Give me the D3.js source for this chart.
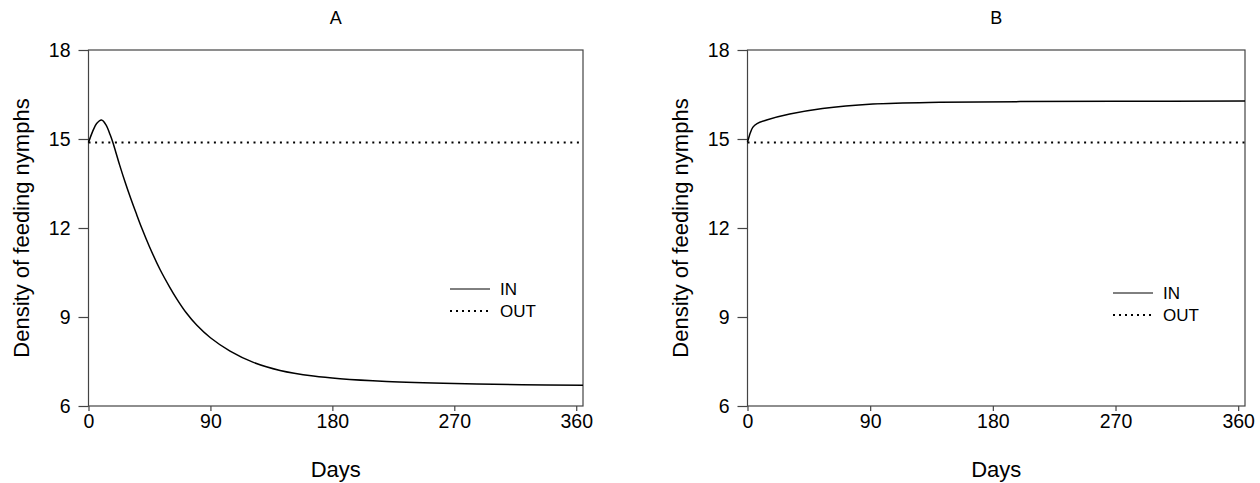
<!DOCTYPE html>
<html>
<head>
<meta charset="utf-8">
<script src="https://cdn.jsdelivr.net/npm/d3@7"></script>
<style>
body{margin:0;background:#fff;}
text{font-family:"Liberation Sans",Arial,sans-serif;fill:#000;}
</style>
</head>
<body>
<div id="chart"></div>
<script>
// values
var xTicks = [0,90,180,270,360];
var yTicks = [6,9,12,15,18];
var panelNames = ["A","B"];

var daysA = [0,3,6,9.6,13,16,18,20,23,27,31,35,39.3,45,52.8,60,65,72,80,90,104.5,121.7,141.4,166,185.7,220,270,320,365];
var inA   = [14.88,15.25,15.52,15.64,15.47,15.14,14.88,14.58,14.12,13.55,13.02,12.52,12.0,11.37,10.6,10.0,9.62,9.15,8.72,8.3,7.85,7.47,7.2,7.01,6.92,6.83,6.76,6.72,6.70];

var daysB = [0,1,2,4,7,14,31,55,92,141,200,270,365];
var inB   = [14.9,15.05,15.2,15.4,15.52,15.64,15.84,16.03,16.18,16.24,16.26,16.27,16.28];

var daysOut = [0,365];
var outVal  = [14.88,14.88];

var W = 1260, H = 483;

var svg = d3.select("#chart").append("svg")
	.attr("width",W).attr("height",H)
	.attr("viewBox","0 0 "+W+" "+H);

var panels = [
	{name:panelNames[0], x0:88.5, x1:583, days:daysA, vals:inA, leg:{x:450,y:289}},
	{name:panelNames[1], x0:747.5, x1:1245, days:daysB, vals:inB, leg:{x:1113,y:293}}
];

var yTop = 50, yBot = 406;

panels.forEach(function(p){
	var X = d3.scaleLinear().domain([0,365]).range([p.x0,p.x1]);
	var Y = d3.scaleLinear().domain([6,18]).range([yBot,yTop]);
	var g = svg.append("g");

	// frame
	g.append("rect")
		.attr("x",p.x0).attr("y",yTop)
		.attr("width",p.x1-p.x0).attr("height",yBot-yTop)
		.style("fill","none").style("stroke","#444").style("stroke-width",1.2);

	var xa = g.append("g").attr("transform","translate(0,"+yBot+")")
		.call(d3.axisBottom(X).tickValues(xTicks).tickSize(5).tickPadding(3));
	var ya = g.append("g").attr("transform","translate("+p.x0+",0)")
		.call(d3.axisLeft(Y).tickValues(yTicks).tickSize(10).tickPadding(8));
	[xa,ya].forEach(function(a){
		a.select(".domain").remove();
		a.selectAll("line").style("stroke","#444").style("stroke-width",1.2);
		a.selectAll("text").style("font-size","19.5px")
			.style("font-family","'Liberation Sans',Arial,sans-serif").style("fill","#000");
	});

	var line = d3.line().x(function(d){return X(d[0]);}).y(function(d){return Y(d[1]);})
		.curve(d3.curveCatmullRom.alpha(0.5));

	g.append("path")
		.attr("d",line(daysOut.map(function(d,i){return [d,outVal[i]];})))
		.style("fill","none").style("stroke","#000").style("stroke-width",2)
		.style("stroke-dasharray","2,4.6");

	g.append("path")
		.attr("d",line(p.days.map(function(d,i){return [d,p.vals[i]];})))
		.style("fill","none").style("stroke","#000").style("stroke-width",1.5);

	var cx = (p.x0+p.x1)/2;
	g.append("text").attr("x",cx).attr("y",24).attr("text-anchor","middle")
		.style("font-size","18px").text(p.name);
	g.append("text").attr("x",cx).attr("y",477).attr("text-anchor","middle")
		.style("font-size","22px").text("Days");
	g.append("text")
		.attr("transform","translate("+(p.x0-59.5)+","+((yTop+yBot)/2)+") rotate(-90)")
		.attr("text-anchor","middle")
		.style("font-size","22px").text("Density of feeding nymphs");

	// legend
	var lg = g.append("g").attr("transform","translate("+p.leg.x+","+p.leg.y+")");
	lg.append("line").attr("x1",0).attr("x2",40).attr("y1",0).attr("y2",0)
		.style("stroke","#000").style("stroke-width",1);
	lg.append("line").attr("x1",0).attr("x2",40).attr("y1",22).attr("y2",22)
		.style("stroke","#000").style("stroke-width",2).style("stroke-dasharray","2,4");
	lg.append("text").attr("x",50).attr("y",6).style("font-size","17px").text("IN");
	lg.append("text").attr("x",50).attr("y",28).style("font-size","17px").text("OUT");
});
</script>
</body>
</html>
